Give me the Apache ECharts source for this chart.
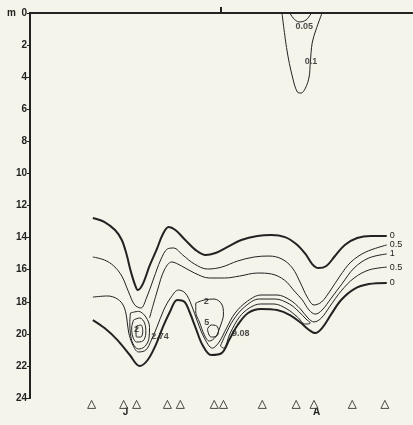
<!DOCTYPE html>
<html>
<head>
<meta charset="utf-8">
<script src="https://cdn.jsdelivr.net/npm/echarts@6/dist/echarts.min.js"></script>
<title>methane contours</title>
<style>
  html, body { margin: 0; padding: 0; background: #f4f4ea; }
</style>
</head>
<body>
<div id="main" style="width:413px;height:425px;"></div>
<script type="text/javascript">

    // x = days from 1 July, y = depth (m)
    var monthLabels = ['J', 'A'];
    var monthCentres = [15.5, 46.5];
    var monthBoundary = [31];
    var sampleDays = [10.0, 15.2, 17.3, 22.3, 24.4, 29.9, 31.4, 37.7, 43.2, 46.1, 52.3, 57.6];

    // contour lines [day, depth]
    var upper0 = [[10.2,12.78],[12.1,13.03],[13.8,13.53],[14.9,14.15],[15.7,15.09],[16.3,16.02],[17.0,16.9],[17.5,17.27],[18.3,16.9],[19.4,15.77],[20.6,14.71],[21.5,13.84],[22.5,13.34],[23.6,13.53],[25.2,14.15],[26.9,14.78],[28.5,15.09],[30.1,14.96],[32.0,14.59],[34.3,14.15],[36.9,13.9],[39.2,13.84],[41.4,13.97],[43.2,14.4],[44.7,15.02],[45.8,15.65],[46.8,15.9],[48.1,15.77],[49.5,15.15],[51.1,14.46],[53.1,14.03],[55.3,13.9],[57.9,13.9]];
    var upper05 = [[10.2,15.21],[12.1,15.4],[13.6,15.77],[14.9,16.4],[16.0,17.39],[17.0,18.2],[18.0,18.39],[18.9,17.77],[20.1,16.52],[21.2,15.4],[22.3,14.71],[23.3,14.65],[24.8,15.09],[26.7,15.65],[28.8,15.96],[31.1,15.84],[33.7,15.46],[36.4,15.21],[38.8,15.15],[40.9,15.34],[42.6,15.9],[43.9,16.83],[45.0,17.71],[46.1,18.2],[47.3,18.02],[48.7,17.33],[50.3,16.4],[52.1,15.52],[54.5,14.9],[57.9,14.46]];
    var line1 = [[19.4,19.01],[20.7,17.27],[21.8,16.02],[23.0,15.52],[24.6,15.77],[26.7,16.21],[29.1,16.52],[31.6,16.52],[34.0,16.4],[36.9,16.21],[39.2,16.27],[41.3,16.65],[42.9,17.33],[44.2,17.89],[45.3,18.52],[46.3,18.77],[47.4,18.52],[48.9,17.77],[50.6,16.9],[52.6,15.9],[55.0,15.27],[57.9,15.02]];
    var lower05 = [[10.2,17.71],[12.6,17.64],[14.2,17.83],[15.2,18.27],[15.7,19.01],[16.0,19.89],[16.7,20.7],[17.6,21.13],[18.8,21.01],[19.7,20.39],[20.6,19.58],[21.7,18.52],[22.8,17.77],[24.1,17.27],[25.2,17.46],[26.2,18.2],[27.2,19.26],[28.3,20.26],[29.6,20.89],[30.7,20.51],[31.9,19.64],[33.3,18.7],[35.3,17.96],[37.5,17.58],[40.1,17.58],[42.2,17.89],[43.9,18.45],[45.1,19.01],[46.1,19.26],[47.3,19.01],[48.7,18.27],[50.5,17.33],[52.6,16.52],[55.0,16.02],[57.9,15.84]];
    var inner1 = [[30.9,20.76],[31.7,20.07],[33.0,19.14],[34.8,18.33],[37.2,17.83],[39.8,17.83],[42.1,18.14],[43.7,18.64],[44.8,19.08],[45.5,19.33],[44.7,19.39],[43.4,18.95],[41.7,18.45],[39.6,18.14],[37.4,18.14],[35.6,18.39],[34.0,18.95],[32.5,19.95],[31.4,20.89],[30.9,20.76]];
    var lower0 = [[10.2,19.14],[12.1,19.64],[14.2,20.39],[16.2,21.32],[17.8,22.01],[19.1,21.63],[20.4,20.7],[21.5,19.64],[22.7,18.64],[23.9,17.89],[25.1,18.02],[25.9,18.64],[26.9,19.64],[28.0,20.7],[29.4,21.32],[31.1,21.2],[32.4,20.32],[33.7,19.45],[35.4,18.7],[37.5,18.45],[40.1,18.52],[42.2,18.83],[44.0,19.33],[45.3,19.76],[46.3,19.95],[47.4,19.64],[48.9,18.77],[50.5,17.89],[52.6,17.21],[55.0,16.9],[57.9,16.83]];

    var leftLoop1 = [[16.3,18.7],[17.6,18.6],[18.8,18.95],[19.4,19.6],[19.3,20.3],[18.6,20.8],[17.6,20.95],[16.7,20.6],[16.3,20.0],[16.2,19.3],[16.3,18.7]];
    var leftLoop2 = [[16.8,19.14],[17.8,19.01],[18.6,19.33],[18.8,19.95],[18.3,20.45],[17.3,20.51],[16.7,20.2],[16.5,19.64],[16.8,19.14]];
    var leftLoop3 = [[17.3,19.51],[18.0,19.45],[18.3,19.83],[18.0,20.2],[17.3,20.2],[17.2,19.83],[17.3,19.51]];
    var midLoop2 = [[26.9,18.08],[28.3,17.89],[29.9,17.83],[31.1,18.14],[31.4,18.77],[30.9,19.51],[30.1,20.2],[29.1,20.45],[28.3,20.07],[27.5,19.26],[26.9,18.64],[26.9,18.08]];
    var midLoop5 = [[28.8,19.7],[29.4,19.45],[30.3,19.51],[30.6,19.83],[30.3,20.14],[29.4,20.2],[29.0,20.01],[28.8,19.7]];
    var surface005 = [[42.2,0],[42.7,0.31],[43.7,0.56],[44.8,0.44],[45.6,0.06],[45.8,0]];
    var surface01 = [[40.9,0],[41.7,2.31],[42.6,3.99],[43.4,4.93],[44.0,4.99],[44.7,4.68],[45.3,3.99],[45.5,3.05],[45.8,1.87],[46.4,1.06],[47.4,0]];

    var contourLabels = [[44.5,0.87,'0.05'],[45.6,3.05,'0.1'],[17.3,19.7,'2'],[21.1,20.14,'2.74'],[28.6,18.0,'2'],[28.7,19.3,'5'],[34.2,20.0,'9.08']];

    var ink = '#222';
    var paper = '#f4f4ea';

    function contour(data, width, endText) {
        var s = {
            type: 'line',
            data: data,
            smooth: 0.35,
            showSymbol: false,
            silent: true,
            lineStyle: { color: ink, width: width }
        };
        if (endText) {
            s.endLabel = { show: true, formatter: endText, color: ink, fontSize: 9, distance: 3,
                fontFamily: 'Liberation Sans' };
        }
        return s;
    }

    var myChart = echarts.init(document.getElementById('main'));

    var option = {
        animation: false,
        backgroundColor: paper,
        grid: { left: 30, right: 1, top: 13, bottom: 27 },
        xAxis: [{
            type: 'value', min: 0, max: 62, position: 'bottom',
            axisLine: { lineStyle: { color: ink, width: 2 } },
            axisTick: { customValues: monthBoundary, inside: true, length: 5, lineStyle: { color: ink, width: 2 } },
            axisLabel: { customValues: monthCentres, margin: 9, color: ink, fontSize: 10, fontWeight: 'bold',
                fontFamily: 'Liberation Sans',
                formatter: function (v) { return v < 31 ? monthLabels[0] : monthLabels[1]; } },
            splitLine: { show: false }
        }, {
            type: 'value', min: 0, max: 62, position: 'top',
            axisLine: { lineStyle: { color: ink, width: 2 } },
            axisTick: { customValues: monthBoundary, length: 6, lineStyle: { color: ink, width: 2 } },
            axisLabel: { show: false },
            splitLine: { show: false }
        }],
        yAxis: [{
            type: 'value', min: 0, max: 24, interval: 2, inverse: true,
            axisLine: { lineStyle: { color: ink, width: 2 } },
            axisTick: { length: 3, lineStyle: { color: ink } },
            axisLabel: { color: ink, fontSize: 10, fontWeight: 'bold', margin: 3, fontFamily: 'Liberation Sans',
                formatter: function (v) { return v === 0 ? 'm  0' : v; } },
            splitLine: { show: false }
        }, {
            type: 'value', min: 0, max: 24, inverse: true, position: 'right',
            axisLine: { show: true, lineStyle: { color: ink, width: 1 } },
            axisTick: { show: false }, axisLabel: { show: false }, splitLine: { show: false }
        }],
        series: [
            contour(upper0, 2, '0'),
            contour(upper05, 1, '0.5'),
            contour(line1, 1, '1'),
            contour(lower05, 1, '0.5'),
            contour(inner1, 1),
            contour(lower0, 2, '0'),
            contour(leftLoop1, 1),
            contour(leftLoop2, 1),
            contour(leftLoop3, 1),
            contour(midLoop2, 1),
            contour(midLoop5, 1),
            contour(surface005, 1),
            contour(surface01, 1),
            {
                type: 'scatter', data: contourLabels, symbolSize: 1, silent: true,
                itemStyle: { color: 'rgba(0,0,0,0)' },
                label: { show: true, position: 'inside', color: ink, fontSize: 9, fontWeight: 'bold',
                    fontFamily: 'Liberation Sans', backgroundColor: paper, padding: [0, 1],
                    formatter: function (p) { return p.value[2]; } }
            },
            {
                type: 'scatter', clip: false, silent: true,
                data: sampleDays.map(function (d) { return [d, 24.4]; }),
                symbol: 'triangle', symbolSize: 8,
                itemStyle: { color: paper, borderColor: ink, borderWidth: 1 }
            }
        ]
    };
    myChart.setOption(option);

</script>
</body>
</html>
